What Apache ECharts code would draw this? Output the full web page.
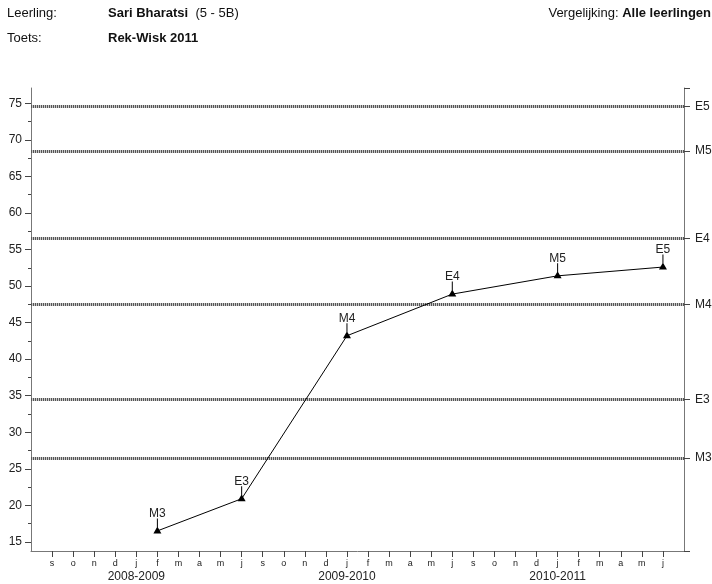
<!DOCTYPE html>
<html>
<head>
<meta charset="utf-8">
<script src="https://cdn.jsdelivr.net/npm/echarts@6/dist/echarts.min.js"></script>
<style>html,body{margin:0;padding:0;background:#fff}#c{width:712px;height:584px}</style>
</head>
<body>
<div id="c"></div>
<script>
// ---- data ----
var months = ['s','o','n','d','j','f','m','a','m','j','s','o','n','d','j','f','m','a','m','j','s','o','n','d','j','f','m','a','m','j'];
var schoolYears = ['2008-2009','2009-2010','2010-2011'];
var yearCenters = [5, 15, 25];
var pointPos = [6, 10, 15, 20, 25, 30];
var pointValues = [16.5, 20.9, 43.2, 48.9, 51.4, 52.6];
var pointLabels = ['M3','E3','M4','E4','M5','E5'];
var levelValues = [74.6, 68.5, 56.5, 47.5, 34.5, 26.5];
var levelNames = ['E5','M5','E4','M4','E3','M3'];
var majorTicks = [15,20,25,30,35,40,45,50,55,60,65,70,75];
var minorTicks = [17.5,22.5,27.5,32.5,37.5,42.5,47.5,52.5,57.5,62.5,67.5,72.5];

var FONT = 'Liberation Sans, Arial, sans-serif';
var YMIN = 13.75, YMAX = 77.1;
var monthTicks = months.map(function(m, i){ return i + 1; });

var seriesData = pointPos.map(function(x, i){ return { value: [x, pointValues[i]], name: pointLabels[i] }; });

var chart = echarts.init(document.getElementById('c'), null, {renderer: 'canvas'});
var hdr = {fontFamily: FONT, fontSize: 13, fontWeight: 'normal', color: '#111',
  rich: { b: {fontFamily: FONT, fontSize: 13, fontWeight: 'bold', color: '#111'} }};
chart.setOption({
  animation: false,
  backgroundColor: '#fff',
  title: [
    {text: 'Leerling:', left: 7, top: 7, padding: 0, textStyle: hdr},
    {text: '{b|Sari Bharatsi}  (5 - 5B)', left: 108, top: 7, padding: 0, textStyle: hdr},
    {text: 'Vergelijking: {b|Alle leerlingen}', right: 1, top: 7, padding: 0, textStyle: hdr},
    {text: 'Toets:', left: 7, top: 32, padding: 0, textStyle: hdr},
    {text: '{b|Rek-Wisk 2011}', left: 108, top: 32, padding: 0, textStyle: hdr}
  ],
  grid: {left: 31, right: 28, top: 88, bottom: 33, containLabel: false, outerBoundsMode: 'none'},
  xAxis: [
    {type: 'value', min: 0, max: 31, position: 'bottom',
     axisLine: {show: true, lineStyle: {color: '#777', width: 1}},
     axisTick: {show: true, length: 6, customValues: monthTicks, lineStyle: {color: '#444'}},
     axisLabel: {customValues: monthTicks, fontSize: 9, fontFamily: FONT, color: '#222', margin: 8,
       formatter: function(v){ return months[Math.round(v) - 1] || ''; }},
     splitLine: {show: false}},
    {type: 'value', min: 0, max: 31, position: 'bottom',
     axisLine: {show: false}, axisTick: {show: false},
     axisLabel: {customValues: yearCenters, fontSize: 12, fontFamily: FONT, color: '#222', margin: 20,
       formatter: function(v){ return schoolYears[yearCenters.indexOf(Math.round(v))] || ''; }},
     splitLine: {show: false}}
  ],
  yAxis: [
    {type: 'value', min: YMIN, max: YMAX, position: 'left',
     axisLine: {show: true, lineStyle: {color: '#777', width: 1}},
     axisTick: {show: true, length: 6, customValues: majorTicks, lineStyle: {color: '#444'}},
     axisLabel: {customValues: majorTicks, fontSize: 12, fontFamily: FONT, color: '#222', margin: 9},
     splitLine: {show: false}},
    {type: 'value', min: YMIN, max: YMAX, position: 'left',
     axisLine: {show: false},
     axisTick: {show: true, length: 3, customValues: minorTicks, lineStyle: {color: '#444'}},
     axisLabel: {show: false}, splitLine: {show: false}},
    {type: 'value', min: YMIN, max: YMAX, position: 'right',
     axisLine: {show: true, lineStyle: {color: '#777', width: 1}},
     axisTick: {show: true, inside: false, length: 6, customValues: [YMIN, YMAX].concat(levelValues), lineStyle: {color: '#444'}},
     axisLabel: {customValues: levelValues, fontSize: 12, fontFamily: FONT, color: '#222', margin: 11,
       formatter: function(v){ var i = levelValues.indexOf(v); return i >= 0 ? levelNames[i] : ''; }},
     splitLine: {show: false}}
  ],
  series: [
    {type: 'line', xAxisIndex: 0, yAxisIndex: 0, data: [], silent: true,
     markLine: {silent: true, symbol: 'none', label: {show: false},
       lineStyle: {color: '#c8c8c8', width: 3, type: 'solid'},
       data: levelValues.map(function(v){ return {yAxis: v}; })}},
    {type: 'line', xAxisIndex: 0, yAxisIndex: 0, data: [], silent: true,
     markLine: {silent: true, symbol: 'none', label: {show: false},
       lineStyle: {color: '#555', width: 3, type: [1, 1]},
       data: levelValues.map(function(v){ return {yAxis: v}; })}},
    {type: 'line', xAxisIndex: 0, yAxisIndex: 0, data: seriesData,
     lineStyle: {color: '#000', width: 1},
     itemStyle: {color: '#000'},
     symbol: 'path://M3.5,0 L4.5,0 L4.5,9 L3.5,9 Z M0,15 L4,8 L8,15 Z',
     symbolSize: [8, 15], symbolOffset: [0, -5], symbolKeepAspect: false,
     label: {show: true, position: 'top', distance: -1, fontSize: 12, fontFamily: FONT, color: '#222',
       formatter: function(p){ return p.name; }},
     z: 5}
  ]
});
</script>
</body>
</html>
